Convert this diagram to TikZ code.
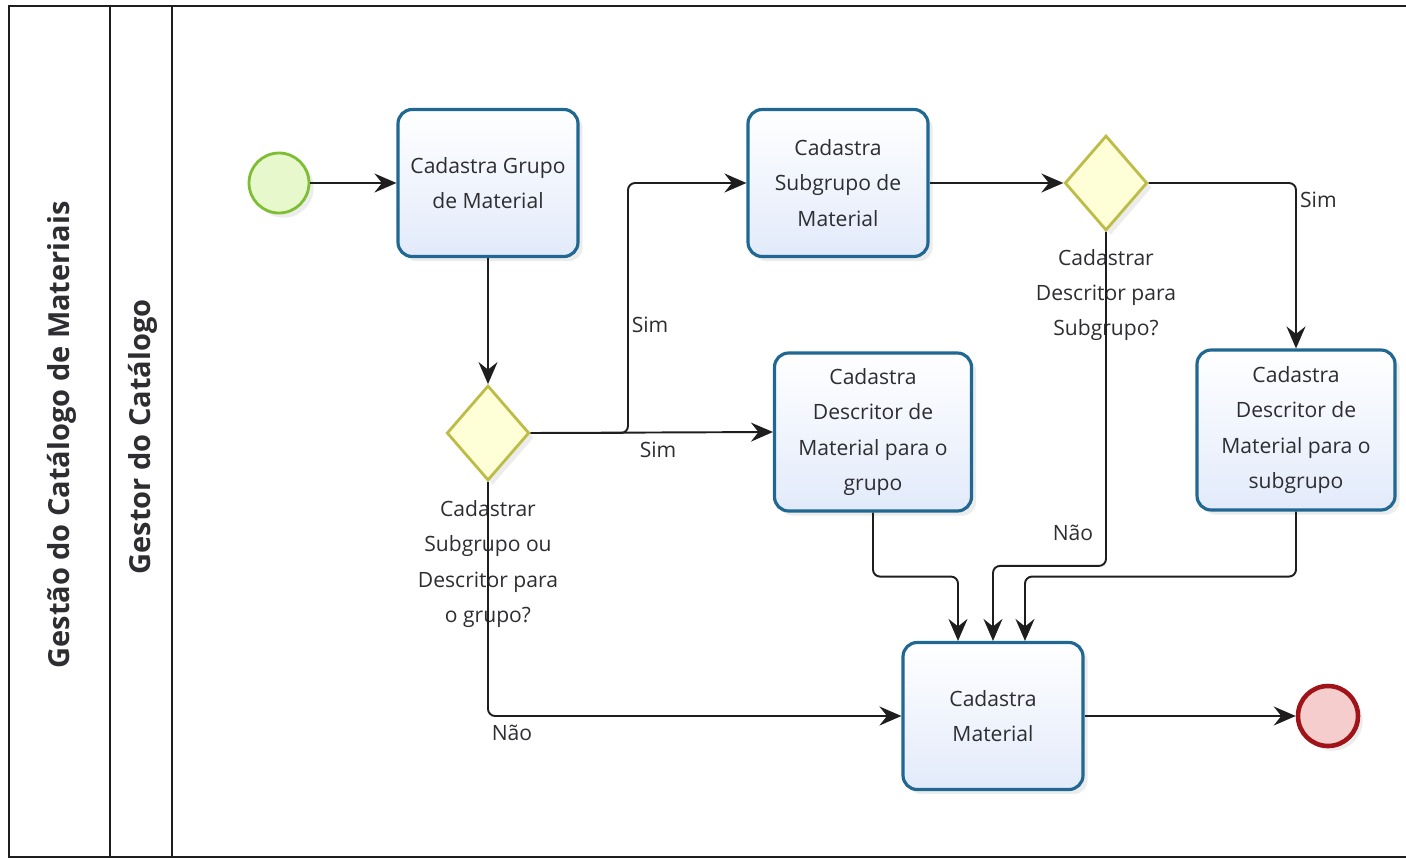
\documentclass[tikz,border=0pt]{standalone}
\usepackage{fontspec}
\setmainfont{Open Sans}
\usetikzlibrary{shapes.geometric,arrows.meta,shadows}
\definecolor{bpline}{RGB}{30,30,30}
\definecolor{bptask}{RGB}{32,104,145}
\definecolor{bptaskfill}{RGB}{226,234,250}
\definecolor{bpgate}{RGB}{188,188,70}
\definecolor{bpgatefill}{RGB}{255,255,215}
\definecolor{bpstart}{RGB}{125,190,50}
\definecolor{bpstartfill}{RGB}{232,248,205}
\definecolor{bpend}{RGB}{160,20,25}
\definecolor{bpendfill}{RGB}{245,205,205}
\definecolor{bptext}{RGB}{45,45,50}

\begin{document}
\begin{tikzpicture}[x=0.02cm,y=-0.02cm,
  pool/.style={draw=bpline,line width=1.2pt},
  lane/.style={font=\bfseries\fontsize{16.5}{18}\selectfont,text=bptext},
  task/.style={rounded corners=8pt,draw=bptask,line width=1.8pt,top color=white,
    bottom color=bptaskfill,minimum width=3.6cm,minimum height=2.94cm,align=center,
    text=bptext,font=\fontsize{12}{20}\selectfont,drop shadow={opacity=0.15}},
  gate/.style={diamond,draw=bpgate,line width=1.6pt,fill=bpgatefill,inner sep=0pt,
    minimum width=1.65cm,minimum height=1.9cm,drop shadow={opacity=0.15}},
  note/.style={align=center,text=bptext,font=\fontsize{12}{20}\selectfont},
  lbl/.style={text=bptext,font=\fontsize{12}{14}\selectfont,inner sep=1pt},
  flow/.style={draw=bpline,line width=1.1pt,rounded corners=4pt,
    -{Stealth[length=4.4mm,width=3.8mm,inset=1.5mm]}}]
  \useasboundingbox (0,0) rectangle (1406,859);

  \draw[pool] (1406,6) -- (9,6) -- (9,857) -- (1406,857);
  \draw[pool] (110,6) -- (110,857);
  \draw[pool] (172,6) -- (172,857);
  \node[lane,rotate=90] (poolname) at (62,435) {Gestão do Catálogo de Materiais};
  \node[lane,rotate=90] (lanename) at (143,437) {Gestor do Catálogo};

  \node[circle,draw=bpstart,line width=1.6pt,fill=bpstartfill,minimum size=1.2cm,
    drop shadow={opacity=0.15}] (start) at (279,183) {};
  \node[task] (grupo) at (488,183) {Cadastra Grupo\\de Material};
  \node[gate] (gw1) at (488,433) {};
  \node[note] (gw1txt) at (488,564) {Cadastrar\\Subgrupo ou\\Descritor para\\o grupo?};
  \node[task] (subgrupo) at (838,183) {Cadastra\\Subgrupo de\\Material};
  \node[task,minimum width=3.94cm,minimum height=3.16cm] (descgrupo) at (873,432)
    {Cadastra\\Descritor de\\Material para o\\grupo};
  \node[gate] (gw2) at (1106,183) {};
  \node[note] (gw2txt) at (1106,295) {Cadastrar\\Descritor para\\Subgrupo?};
  \node[task,minimum width=3.96cm,minimum height=3.2cm] (descsub) at (1296,430)
    {Cadastra\\Descritor de\\Material para o\\subgrupo};
  \node[task] (material) at (993,716) {Cadastra\\Material};
  \node[circle,draw=bpend,line width=2.6pt,fill=bpendfill,minimum size=1.2cm,
    drop shadow={opacity=0.15}] (end) at (1328,716) {};

  \coordinate (fork) at (628,433);
  \draw[flow] (start) -- (grupo);
  \draw[flow] (grupo) -- (gw1);
  \draw[flow] (gw1.east) -- (fork) |- (subgrupo.west);
  \draw[flow] (gw1.east) -- (descgrupo.west);
  \draw[flow] (gw1.south) |- (material.west);
  \draw[flow] (subgrupo) -- (gw2);
  \draw[flow] (gw2.east) -| (descsub.north);
  \draw[flow] (gw2.south) -- ++(0,334) -| (material.north);
  \draw[flow] (descgrupo.south) -- ++(0,64) -| ([xshift=-0.7cm]material.north);
  \draw[flow] (descsub.south) -- ++(0,65) -| ([xshift=0.64cm]material.north);
  \draw[flow] (material) -- (end);

  \node[lbl] (sim1) at (650,325) {Sim};
  \node[lbl] (sim2) at (658,450) {Sim};
  \node[lbl] (nao1) at (512,733) {Não};
  \node[lbl,anchor=west] (sim3) at (1298,200) {Sim};
  \node[lbl] (nao2) at (1073,533) {Não};
\end{tikzpicture}
\end{document}
